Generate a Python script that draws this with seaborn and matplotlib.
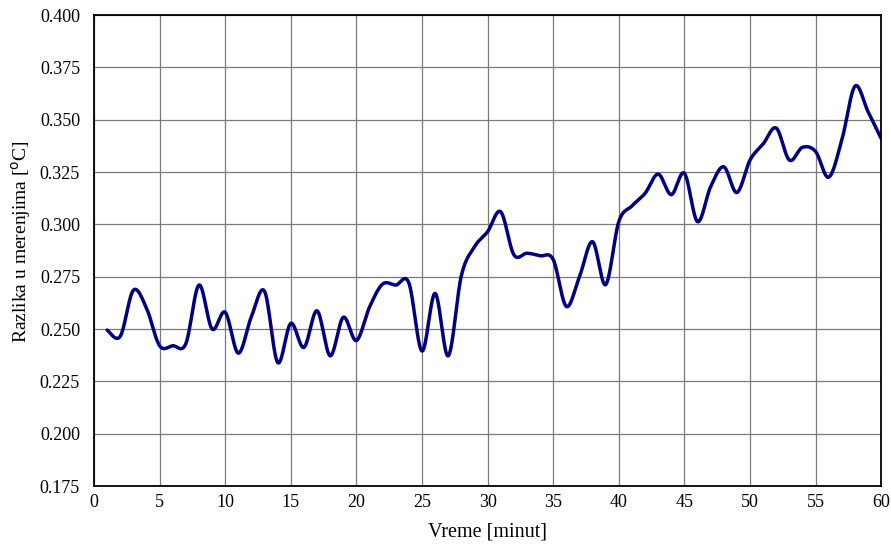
#
# plot.py
#

import numpy as np
import matplotlib.pyplot as plt
import seaborn as sns
import pandas as pd

minutes = list(range(1, 61))
razlika = [0.2495, 0.2465, 0.2685, 0.2600, 0.2420, 0.2420, 0.2430, 0.2710, 0.2500, 0.2580,
           0.2385, 0.2560, 0.2680, 0.2340, 0.2527, 0.2412, 0.2587, 0.2372, 0.2556, 0.2445,
           0.2605, 0.2715, 0.2710, 0.2720, 0.2395, 0.2670, 0.2372, 0.2755, 0.2893, 0.2965,
           0.3060, 0.2855, 0.2862, 0.2850, 0.2832, 0.2608, 0.2750, 0.2917, 0.2712, 0.3013,
           0.3088, 0.3148, 0.3240, 0.3142, 0.3244, 0.3013, 0.3180, 0.3275, 0.3152, 0.3307,
           0.3384, 0.3460, 0.3307, 0.3368, 0.3348, 0.3225, 0.3403, 0.3660, 0.3538, 0.3410]

x_ticks = [0, 5, 10, 15, 20, 25, 30, 35, 40, 45, 50, 55, 60]
y_ticks = [0.175, 0.200, 0.225, 0.250, 0.275, 0.300, 0.325, 0.350, 0.375, 0.400]


def smooth_line(x, y, n=30):
    # excel-like smoothed line (catmull-rom bezier between points)
    x = np.asarray(x, dtype=float)
    y = np.asarray(y, dtype=float)
    px = np.concatenate([[x[0]], x, [x[-1]]])
    py = np.concatenate([[y[0]], y, [y[-1]]])
    t = np.linspace(0, 1, n, endpoint=False)
    xs, ys = [], []
    for i in range(1, len(px) - 2):
        p0x, p3x = px[i], px[i + 1]
        p0y, p3y = py[i], py[i + 1]
        c1x = p0x + (px[i + 1] - px[i - 1]) / 6
        c1y = p0y + (py[i + 1] - py[i - 1]) / 6
        c2x = p3x - (px[i + 2] - px[i]) / 6
        c2y = p3y - (py[i + 2] - py[i]) / 6
        b0 = (1 - t) ** 3
        b1 = 3 * (1 - t) ** 2 * t
        b2 = 3 * (1 - t) * t ** 2
        b3 = t ** 3
        xs.append(b0 * p0x + b1 * c1x + b2 * c2x + b3 * p3x)
        ys.append(b0 * p0y + b1 * c1y + b2 * c2y + b3 * p3y)
    xs.append([x[-1]])
    ys.append([y[-1]])
    return np.concatenate(xs), np.concatenate(ys)


sns.set_style("white")
plt.rcParams['font.family'] = ['Liberation Serif', 'DejaVu Serif']
plt.rcParams['text.color'] = 'black'
plt.rcParams['axes.labelcolor'] = 'black'
plt.rcParams['xtick.color'] = 'black'
plt.rcParams['ytick.color'] = 'black'

sx, sy = smooth_line(minutes, razlika)
df = pd.DataFrame({'Vreme': sx, 'Razlika': sy})

fig = plt.figure(figsize=(8.91, 5.47), dpi=100)
ax = fig.add_axes([0.1055, 0.1115, 0.8835, 0.861])

sns.lineplot(data=df, x='Vreme', y='Razlika', ax=ax, color='#000080',
             linewidth=2.5, sort=False, estimator=None)

ax.set_xlim(0, 60)
ax.set_ylim(0.175, 0.400)
ax.set_xticks(x_ticks)
ax.set_yticks(y_ticks)
ax.set_yticklabels(['%.3f' % v for v in y_ticks])
ax.grid(True, color='#7a7a7a', linewidth=0.9)
ax.set_axisbelow(True)

for s in ax.spines.values():
    s.set_color('black')
    s.set_linewidth(1.3)

ax.tick_params(axis='x', length=0, pad=6, labelsize=13, labelcolor='black')
ax.tick_params(axis='y', length=8, width=0.9, color='#7a7a7a', pad=2, labelsize=13,
               labelcolor='black')

ax.set_xlabel('Vreme [minut]', fontsize=14.5, labelpad=8, color='black')
ax.set_ylabel('Razlika u merenjima [$^{\\rm o}$C]', fontsize=14, color='black')
ax.yaxis.set_label_coords(-0.078, 0.52)

plt.savefig('out.png', dpi=100)
